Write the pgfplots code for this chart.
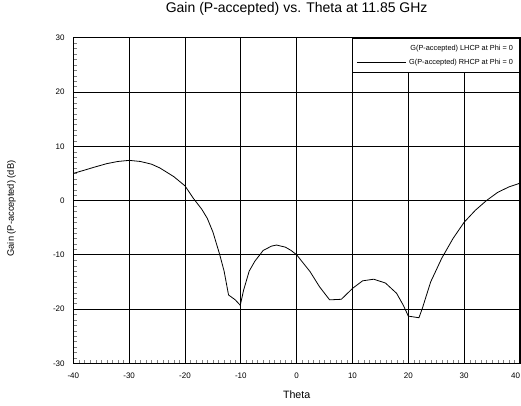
\documentclass[border=0pt]{standalone}
\usepackage{pgfplots}
\pgfplotsset{compat=1.18}
\usepackage{fontspec}
\setmainfont{Liberation Sans}
\begin{document}
\begin{tikzpicture}
\begin{axis}[
  scale only axis,
  width=335pt, height=244.2pt,
  xmin=-40, xmax=40, ymin=-30, ymax=30,
  xtick={-40,-30,...,40}, ytick={-30,-20,...,30},
  xticklabels={-40,-30,-20,-10,0,10,20,30,\makebox[0pt][r]{40}},
  minor tick num=9,
  tick pos=left, tick align=inside,
  major tick length=0pt, minor tick length=2.5pt,
  grid=major,
  major grid style={black, line width=0.7pt},
  axis line style={black, line width=1.1pt},
  /pgf/number format/assume math mode=true,
  ticklabel style={font=\fontsize{6}{7}\selectfont},
  xticklabel style={yshift=-4pt},
  yticklabel style={xshift=-3pt},
  title={Gain (P-accepted) vs. Theta at 11.85 GHz},
  title style={font=\fontsize{10.5}{12}\selectfont, at={(0.5,1)}, anchor=south, yshift=7pt},
  xlabel={Theta},
  xlabel style={font=\fontsize{8}{9}\selectfont, yshift=-2pt},
  ylabel={Gain (P-accepted) (dB)},
  ylabel style={font=\fontsize{7}{8}\selectfont, yshift=21pt, xshift=-6pt},
  legend style={at={(1,1)}, anchor=north east, font=\fontsize{5.5}{6.5}\selectfont,
    draw=black, line width=0.6pt, inner xsep=3pt, inner ysep=3pt, row sep=1pt},
  legend cell align=right,
  legend image code/.code={\draw[#1] (0cm,0cm) -- (1.3cm,0cm);},
]
\addlegendimage{white, line width=0.6pt}
\addlegendentry{G(P-accepted) LHCP at Phi = 0}
\addplot[black, line width=0.6pt] coordinates {
(-40,5.0) (-38,5.6) (-36.4,6.1) (-34,6.8) (-32,7.2) (-30,7.4) (-28,7.2) (-26,6.7)
(-24.5,6.0) (-22,4.4) (-20,2.7) (-18.5,0.4) (-17,-1.6) (-16,-3.3) (-15,-5.8)
(-13.8,-9.9) (-13,-13) (-12.2,-17.4) (-11,-18.3) (-10.1,-19.3) (-9.5,-16.5)
(-8.5,-13) (-7.5,-11.2) (-6,-9.2) (-4.5,-8.4) (-3.6,-8.2) (-2,-8.6) (-1,-9.2)
(0,-10) (1,-11.3) (2.4,-13.1) (4.1,-15.9) (5.9,-18.3) (8,-18.2) (10,-16.2)
(11.8,-14.8) (13.8,-14.5) (15.9,-15.2) (17.9,-17.1) (19.1,-19.3) (20,-21.3)
(21.9,-21.6) (22.5,-19.9) (24,-15.0) (26,-10.6) (28,-7.0) (30,-4.0) (32,-1.8)
(34,0.0) (36,1.5) (38,2.5) (40,3.2)
};
\addlegendentry{G(P-accepted) RHCP at Phi = 0}
\end{axis}
\pgfresetboundingbox
\path (current axis.south west) ++(-55pt,-31.3pt) coordinate (bl);
\path (current axis.north east) ++(0.75pt,28.3pt) coordinate (tr);
\path (bl) rectangle (tr);
\end{tikzpicture}
\end{document}
